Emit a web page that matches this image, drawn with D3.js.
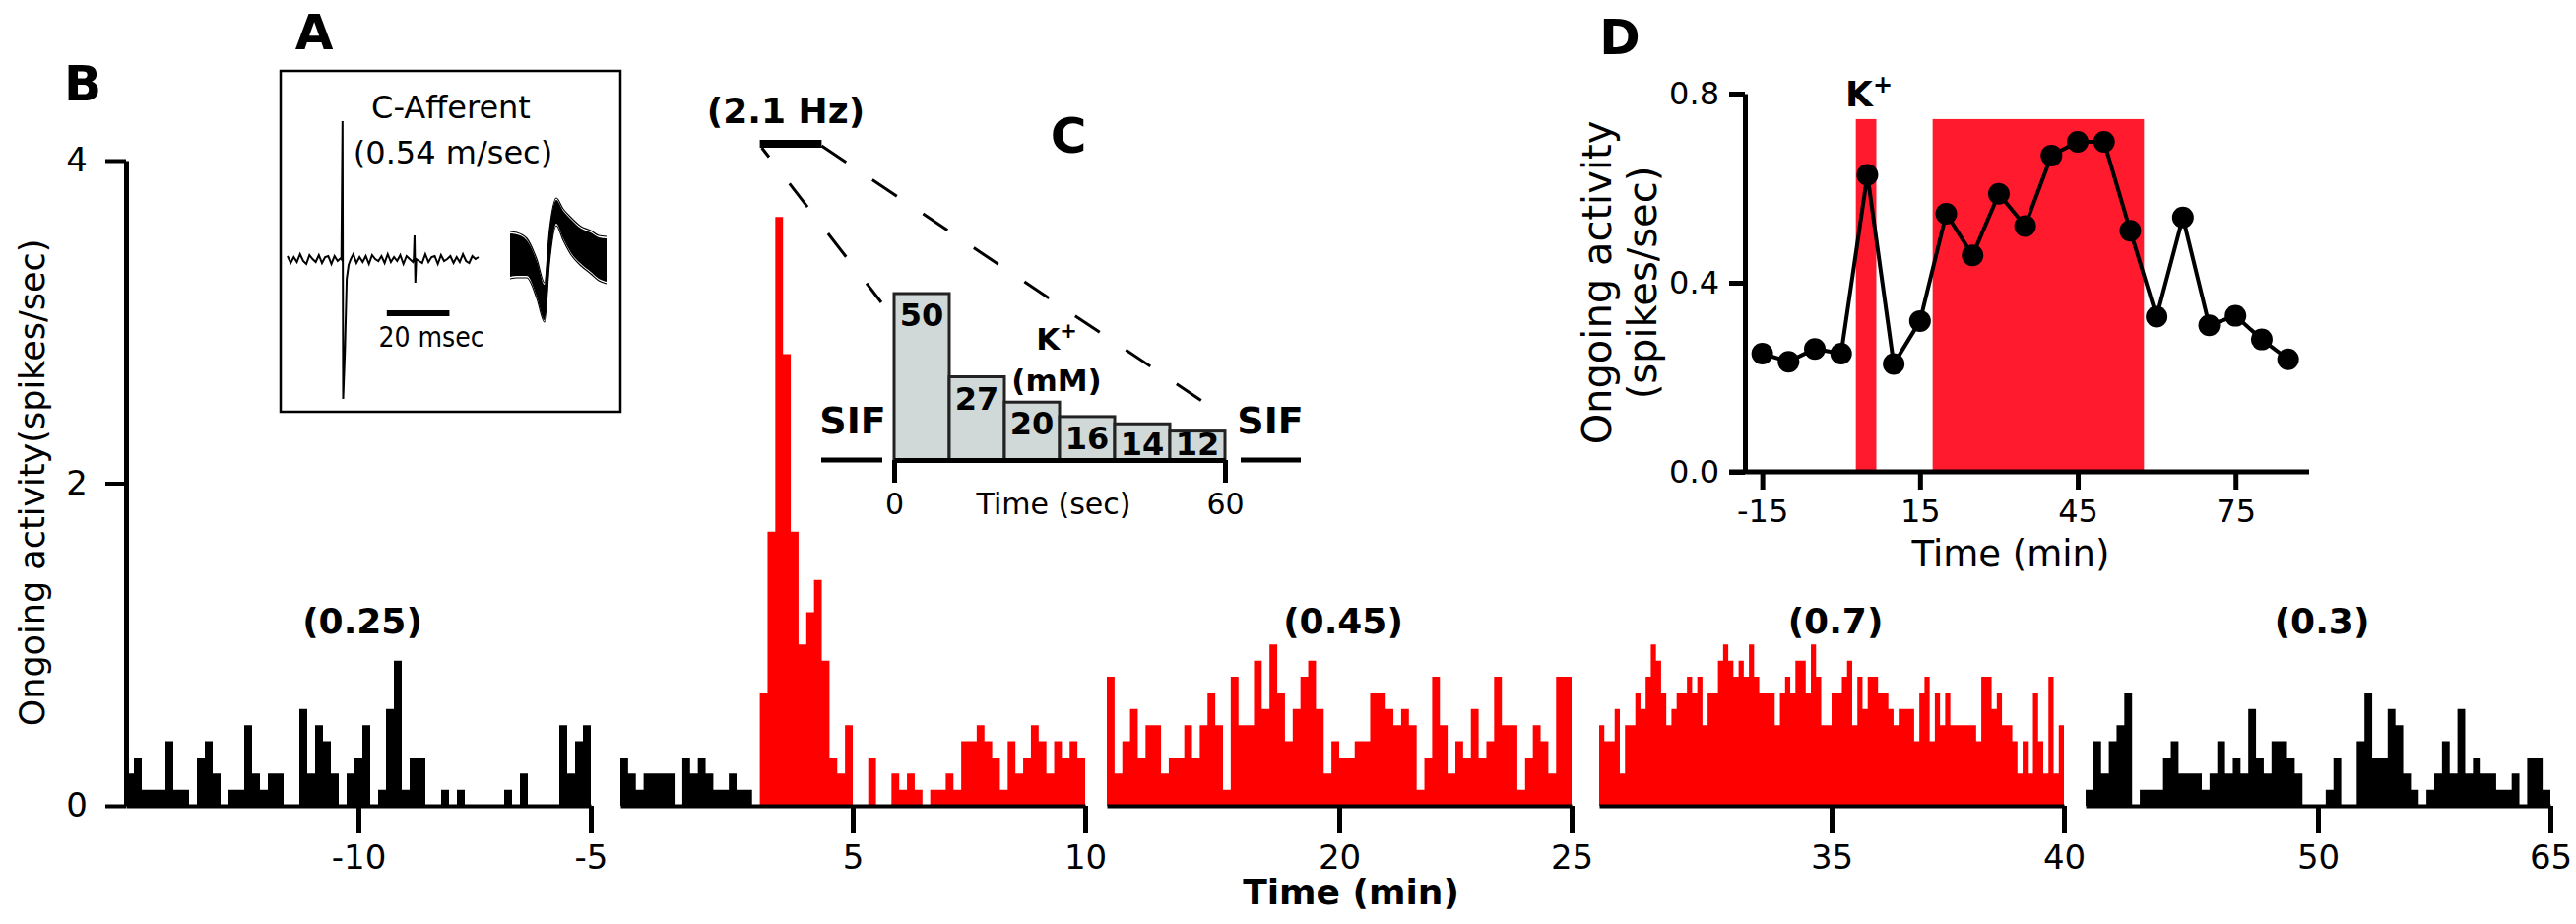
<!DOCTYPE html>
<html>
<head>
<meta charset="utf-8">
<script src="https://cdn.jsdelivr.net/npm/d3@7"></script>
<style>
  body { margin: 0; background: #fff; }
  svg { display: block; }
  text { font-family: "DejaVu Sans", Verdana, sans-serif; fill: #000; }
</style>
</head>
<body>
<svg id="fig" width="2616" height="938"></svg>
<script>
// ---------- panel B : binned activity, one list per axis segment (spikes/sec)
const seg1Rates = [0.2,0.3,0.1,0.1,0.1,0.4,0.1,0.1,0,0.3,
  0.4,0.2,0,0.1,0.1,0.5,0.2,0.1,0.2,0.2,
  0,0,0.6,0.2,0.5,0.4,0.2,0,0.2,0.3,
  0.5,0,0.1,0.6,0.9,0.1,0.3,0.3,0,0,
  0.1,0,0.1,0,0,0,0,0,0.1,0,
  0.2,0,0,0,0,0.5,0.2,0.4,0.5];
const seg2Base = [0.3,0.2,0.1,0.2,0.2,0.2,0.2,0,0.3,0.2,0.3,0.2,0.1,0.1,0.2,0.1,0.1,0];
const seg2K = [0.7,1.7,3.65,2.8,1.7,1.0,1.2,1.4,0.9,0.3,
  0.2,0.5,0,0,0.3,0,0,0.2,0.1,0.2,
  0.1,0,0.1,0.1,0.2,0.1,0.4,0.4,0.5,0.4,
  0.3,0.1,0.4,0.2,0.3,0.5,0.4,0.2,0.4,0.3,
  0.4,0.3];
const seg3Rates = [0.8,0.2,0.4,0.6,0.3,0.5,0.5,0.2,0.3,0.3,
  0.5,0.3,0.5,0.7,0.5,0.1,0.8,0.5,0.5,0.9,
  0.6,1.0,0.7,0.4,0.6,0.8,0.9,0.6,0.2,0.4,
  0.3,0.3,0.4,0.4,0.7,0.7,0.6,0.5,0.6,0.5,
  0.1,0.3,0.8,0.5,0.2,0.4,0.3,0.6,0.3,0.4,
  0.8,0.5,0.5,0.1,0.3,0.5,0.4,0.2,0.8,0.8];
const seg4Rates = [0.5,0.4,0.4,0.6,0.2,0.5,0.5,0.7,0.6,0.8,
  1.0,0.9,0.7,0.5,0.6,0.7,0.7,0.8,0.7,0.8,
  0.5,0.7,0.7,0.9,1.0,0.9,0.8,0.9,0.8,1.0,
  0.8,0.7,0.7,0.7,0.5,0.7,0.8,0.7,0.9,0.9,
  0.7,1.0,0.8,0.5,0.5,0.7,0.7,0.8,0.9,0.5,
  0.8,0.6,0.8,0.8,0.7,0.7,0.6,0.5,0.6,0.6,
  0.6,0.4,0.7,0.8,0.4,0.7,0.5,0.7,0.5,0.5,
  0.5,0.5,0.5,0.4,0.8,0.8,0.6,0.7,0.5,0.5,
  0.4,0.2,0.4,0.2,0.7,0.4,0.2,0.8,0.2,0.5];
const seg5Rates = [0.1,0.4,0.2,0.4,0.5,0.7,0,0.1,0.1,0.1,
  0.3,0.4,0.2,0.2,0.2,0.1,0.2,0.4,0.2,0.3,
  0.2,0.6,0.3,0.2,0.4,0.4,0.3,0.2,0,0,
  0,0.1,0.3,0,0,0.4,0.7,0.3,0.3,0.6,
  0.5,0.2,0.1,0,0.1,0.2,0.4,0.2,0.6,0.2,
  0.3,0.2,0.2,0.1,0.1,0.2,0,0.3,0.3,0.1];
const segDomains = [[-15, -5], [0, 10], [15, 25], [30, 40], [35, 65]];
const segTicks = [[-10, -5], [5, 10], [20, 25], [35, 40], [50, 65]];
const segLabels = ["(0.25)", "", "(0.45)", "(0.7)", "(0.3)"];
const yTicksB = [0, 2, 4];
const zoomWindow = [3, 4.33];       // minutes shown in C
const zoomRate = "(2.1 Hz)";

// ---------- panel C : K+ steps (mM), 10 s each
const kConc = [50, 27, 20, 16, 14, 12];
const kStepSec = 10;
const cTicks = [0, 60];

// ---------- panel D : mean ongoing activity every 5 min
const dTimes = [-15,-10,-5,0,5,10,15,20,25,30,35,40,45,50,55,60,65,70,75,80,85];
const dRates = [0.25,0.233,0.26,0.25,0.628,0.228,0.319,0.546,0.458,0.588,0.52,
  0.669,0.698,0.698,0.51,0.328,0.538,0.31,0.33,0.28,0.238];
const dShades = [[2.8, 6.7], [17.4, 57.6]];
const dShadeTop = 0.746;
const dXTicks = [-15, 15, 45, 75];
const dYTicks = [0, 0.4, 0.8];

// ---------- panel A : single sweep (ms) and overlaid spikes
const traceNoise = [3,-4,2,-3,5,-2,-5,4,0,-3,4,-4,2,3,-5,3,-2,1,-3,4,-2,5,-4,2,-3,3,-5,4,0,-2,
  3,-4,5,-3,2,-2,4,-5,3,0,-3,4,-2,-4,5,-3,2,3,-5,4,-2,0,3,-4,2,-3,5,-2,-4,3,0,2];
const spikeT = [17.2, 17.55, 17.75, 18.3, 18.9, 19.5, 20.2, 40.3, 40.55, 40.8, 41.1];
const spikeV = [0, 140, -142, -95, -20, -6, 0, 0, 24, -24, 0];
const waveT = [0, 2.2, 5.4, 8.6, 11.1, 12.7, 14.9, 17.1, 19.7, 22.9, 26, 28.6, 31.1];
const waveMid = [4, 4, 1, -20, -44, 13, 48, 35, 23, 13, 7, 1, -1];
const waveHalf = [22, 21, 18, 18, 18, 15, 12, 14, 17, 18, 20, 21, 22];
const waveSpread = [-1, -0.7, -0.35, 0, 0.35, 0.7, 1];

const red = "#ff0000";
const shadeRed = "#ff1a2e";
const svg = d3.select("#fig");
svg.append("rect").attr("width", 2616).attr("height", 938).attr("fill", "#fff");

function styleAxis(ax, fontSize, tickW, domainW) {
    ax.select(".domain").attr("stroke", "#000").attr("stroke-width", domainW);
    ax.selectAll(".tick line").attr("stroke", "#000").attr("stroke-width", tickW);
    ax.selectAll(".tick text").attr("fill", "#000")
        .style("font-size", fontSize + "px")
        .style("font-family", "'DejaVu Sans', sans-serif");
    ax.attr("font-family", null).attr("font-size", null);
}

function label(x, y, txt, size, weight, anchor) {
    return svg.append("text").attr("x", x).attr("y", y)
        .attr("text-anchor", anchor || "middle")
        .style("font-size", size + "px")
        .style("font-weight", weight || "normal")
        .text(txt);
}

const plain = d => String(d);   // hyphen minus, no decimals

// ================= panel B
const segX = [128, 630, 1124, 1624, 2118];
const segW = 472;
const yB = d3.scaleLinear().domain([0, 4]).range([818, 163]);

const segments = [
    { runs: [{ v: seg1Rates, c: "#000" }] },
    { runs: [{ v: seg2Base, c: "#000" }, { v: seg2K, c: red }] },
    { runs: [{ v: seg3Rates, c: red }] },
    { runs: [{ v: seg4Rates, c: red }] },
    { runs: [{ v: seg5Rates, c: "#000" }] }
];

const gB = svg.append("g");
const segScales = [];
segments.forEach((s, i) => {
    const dom = segDomains[i];
    const x = d3.scaleLinear().domain(dom).range([segX[i], segX[i] + segW]);
    segScales.push(x);
    const n = d3.sum(s.runs, r => r.v.length);
    const bw = (dom[1] - dom[0]) / n;
    let k = 0;
    s.runs.forEach(r => {
        const pts = r.v.map((v, j) => ({ t: dom[0] + (k + j) * bw, v: v }));
        pts.push({ t: dom[0] + (k + r.v.length) * bw, v: r.v[r.v.length - 1] });
        k += r.v.length;
        const area = d3.area().curve(d3.curveStepAfter)
            .x(d => x(d.t)).y0(yB(0)).y1(d => yB(d.v));
        gB.append("path").datum(pts).attr("fill", r.c).attr("d", area);
    });

    const ax = gB.append("g")
        .attr("transform", "translate(0," + yB(0) + ")")
        .call(d3.axisBottom(x).tickValues(segTicks[i]).tickFormat(plain)
            .tickSize(28).tickSizeOuter(0).tickPadding(12));
    styleAxis(ax, 34, 5, 4);

    if (segLabels[i]) {
        label(x((dom[0] + dom[1]) / 2) + 4, 643, segLabels[i], 36, "bold");
    }
});

const axYB = gB.append("g")
    .attr("transform", "translate(" + segX[0] + ",0)")
    .call(d3.axisLeft(yB).tickValues(yTicksB).tickFormat(plain)
        .tickSize(21).tickSizeOuter(0).tickPadding(18));
styleAxis(axYB, 34, 4, 5);

svg.append("text")
    .attr("transform", "translate(45,490) rotate(-90)")
    .attr("text-anchor", "middle")
    .style("font-size", "35px")
    .text("Ongoing activity(spikes/sec)");

label(84, 102, "B", 50, "bold");
label(1372, 918, "Time (min)", 36, "bold");

// zoom bar and its rate
const xS2 = segScales[1];
label(798, 125, zoomRate, 36, "bold");
svg.append("line")
    .attr("x1", xS2(zoomWindow[0])).attr("x2", xS2(zoomWindow[1]))
    .attr("y1", 146).attr("y2", 146)
    .attr("stroke", "#000").attr("stroke-width", 8);

// ================= panel C
const xC = d3.scaleLinear().domain([0, 60]).range([908, 1244]);
const yC = d3.scaleLinear().domain([4, 50]).range([467, 298]);

svg.append("line")
    .attr("x1", xS2(zoomWindow[0]) + 2).attr("y1", 150)
    .attr("x2", xC(0) - 13).attr("y2", yC(kConc[0]) + 9)
    .attr("stroke", "#000").attr("stroke-width", 3)
    .attr("stroke-dasharray", "12 34 30 34 30 34 30 34 14");
svg.append("line")
    .attr("x1", xS2(zoomWindow[1])).attr("y1", 148)
    .attr("x2", xC(60) - 12).attr("y2", yC(kConc[kConc.length - 1]) - 23)
    .attr("stroke", "#000").attr("stroke-width", 3).attr("stroke-dasharray", "30 32");

const gC = svg.append("g");
gC.selectAll("rect").data(kConc).join("rect")
    .attr("x", (d, i) => xC(i * kStepSec))
    .attr("y", d => yC(d))
    .attr("width", xC(kStepSec) - xC(0))
    .attr("height", d => yC(4) - yC(d))
    .attr("fill", "#d0d9d7").attr("stroke", "#222").attr("stroke-width", 3);
gC.selectAll("text.conc").data(kConc).join("text")
    .attr("class", "conc")
    .attr("x", (d, i) => xC(i * kStepSec + kStepSec / 2))
    .attr("y", d => Math.min(yC(d) + 33, 462))
    .attr("text-anchor", "middle")
    .style("font-size", "32px").style("font-weight", "bold")
    .text(d => d);

const axC = gC.append("g")
    .attr("transform", "translate(0," + yC(4) + ")")
    .call(d3.axisBottom(xC).tickValues(cTicks).tickSize(23).tickSizeOuter(0).tickPadding(11));
styleAxis(axC, 30, 5, 5);
label(1070, 522, "Time (sec)", 30);

[[834, 896, 866], [1260, 1321, 1290]].forEach(p => {
    svg.append("line").attr("x1", p[0]).attr("x2", p[1]).attr("y1", 467).attr("y2", 467)
        .attr("stroke", "#000").attr("stroke-width", 5);
    label(p[2], 440, "SIF", 38, "bold");
});
const kLab = label(1073, 355, "K", 31, "bold");
kLab.append("tspan").attr("dy", -12).style("font-size", "21px").text("+");
label(1073, 397, "(mM)", 31, "bold");
label(1085, 155, "C", 50, "bold");

// ================= panel A
svg.append("rect").attr("x", 285).attr("y", 72).attr("width", 345).attr("height", 346)
    .attr("fill", "none").attr("stroke", "#000").attr("stroke-width", 2.5);
label(319, 50, "A", 50, "bold");
label(458, 120, "C-Afferent", 32);
label(460, 166, "(0.54 m/sec)", 32);

const xA = d3.scaleLinear().domain([0, traceNoise.length - 1]).range([292, 486]);
const yA = d3.scaleLinear().domain([-150, 150]).range([413, 113]);
const sweep = traceNoise.map((v, i) => ({ t: i, v: v }))
    .filter(d => !(d.t > 17 && d.t < 21) && !(d.t > 40 && d.t < 42))
    .concat(spikeT.map((t, i) => ({ t: t, v: spikeV[i] })))
    .sort((a, b) => a.t - b.t);
svg.append("path").datum(sweep)
    .attr("fill", "none").attr("stroke", "#000").attr("stroke-width", 2)
    .attr("d", d3.line().x(d => xA(d.t)).y(d => yA(d.v)));

// overlaid spikes
const xW = d3.scaleLinear().domain([0, 31.1]).range([518, 616]);
const wave = waveT.map((t, i) => ({ t: t, m: waveMid[i], h: waveHalf[i] }));
svg.append("path").datum(wave).attr("fill", "#000")
    .attr("d", d3.area().curve(d3.curveMonotoneX).x(d => xW(d.t))
        .y0(d => yA(d.m - d.h)).y1(d => yA(d.m + d.h)));
waveSpread.forEach(f => {
    svg.append("path").datum(wave).attr("fill", "none").attr("stroke", "#000").attr("stroke-width", 1.2)
        .attr("d", d3.line().curve(d3.curveMonotoneX).x(d => xW(d.t)).y(d => yA(d.m + f * (d.h + 2))));
});

// 20 ms scale bar
svg.append("line").attr("x1", xA(31.7)).attr("x2", xA(51.7)).attr("y1", 318).attr("y2", 318)
    .attr("stroke", "#000").attr("stroke-width", 6);
label(438, 352, "20 msec", 28).style("font-family", "'DejaVu Sans Condensed', 'DejaVu Sans', sans-serif");

// ================= panel D
const xD = d3.scaleLinear().domain([-18.3, 89]).range([1772, 2345]);
const yD = d3.scaleLinear().domain([0, 0.8]).range([479, 95]);
const gD = svg.append("g");

gD.selectAll("rect").data(dShades).join("rect")
    .attr("x", d => xD(d[0])).attr("width", d => xD(d[1]) - xD(d[0]))
    .attr("y", yD(dShadeTop)).attr("height", yD(0) - yD(dShadeTop))
    .attr("fill", shadeRed);

const axXD = gD.append("g").attr("transform", "translate(0," + yD(0) + ")")
    .call(d3.axisBottom(xD).tickValues(dXTicks).tickFormat(plain)
        .tickSize(18).tickSizeOuter(0).tickPadding(10));
styleAxis(axXD, 32, 5, 5);
axXD.select(".domain").attr("d", "M" + (xD.range()[0] - 16) + ",0H" + xD.range()[1]);

const axYD = gD.append("g").attr("transform", "translate(" + xD.range()[0] + ",0)")
    .call(d3.axisLeft(yD).tickValues(dYTicks).tickFormat(d3.format(".1f"))
        .tickSize(16).tickSizeOuter(0).tickPadding(10));
styleAxis(axYD, 32, 5, 5);

const dPts = dTimes.map((t, i) => ({ t: t, v: dRates[i] }));
gD.append("path").datum(dPts).attr("fill", "none").attr("stroke", "#000").attr("stroke-width", 4)
    .attr("d", d3.line().x(d => xD(d.t)).y(d => yD(d.v)));
gD.selectAll("circle").data(dPts).join("circle")
    .attr("cx", d => xD(d.t)).attr("cy", d => yD(d.v)).attr("r", 11).attr("fill", "#000");

label(2042, 575, "Time (min)", 37);
svg.append("text").attr("transform", "translate(1636,287) rotate(-90)")
    .attr("text-anchor", "middle").style("font-size", "40px").text("Ongoing activity");
svg.append("text").attr("transform", "translate(1682,287) rotate(-90)")
    .attr("text-anchor", "middle").style("font-size", "40px").text("(spikes/sec)");
const kD = label(1898, 108, "K", 36, "bold");
kD.append("tspan").attr("dy", -14).style("font-size", "24px").text("+");
label(1645, 55, "D", 50, "bold");
</script>
</body>
</html>
